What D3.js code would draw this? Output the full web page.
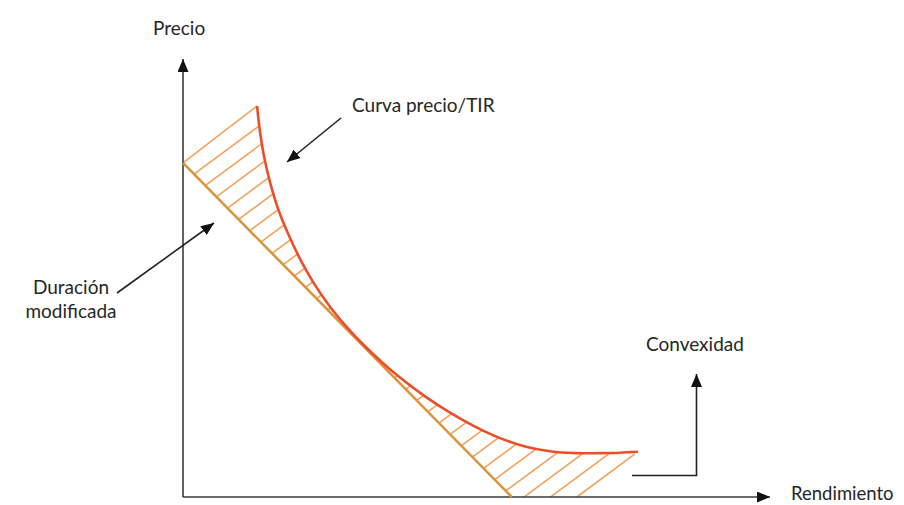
<!DOCTYPE html>
<html>
<head>
<meta charset="utf-8">
<script src="https://cdn.jsdelivr.net/npm/d3@7"></script>
<style>
  html, body { margin: 0; padding: 0; background: #fff; }
  svg { display: block; }
  text { font-family: Lato, "Open Sans", sans-serif; fill: #262626; }
</style>
</head>
<body>
<svg id="chart" width="904" height="505"></svg>
<script>
// ---- data ----
const curveYield = [1.261,1.312,1.371,1.448,1.516,1.618,1.789,1.993,2.215,2.504,2.794,3.118,3.441,3.697,4.123,4.549,4.974,5.400,5.826,6.252,6.678,7.104,7.445,7.751];
const curvePrice = [89.27,83.38,78.42,73.70,70.23,65.84,60.14,54.38,49.11,43.45,38.74,34.18,30.14,27.26,22.97,19.25,16.07,13.45,11.55,10.46,10.02,10.02,10.11,10.32];
const tangentYield = [0, 5.60];
const tangentPrice = [76.3, 0];
const axisLabels = ["Rendimiento", "Precio"];
const annotationLabels = ["Curva precio/TIR", "Duración", "modificada", "Convexidad"];
const hatchCount = 32;

// ---- layout ----
const svg = d3.select("#chart");
const x = d3.scaleLinear().domain([0, 10]).range([183, 770]);
const y = d3.scaleLinear().domain([0, 100]).range([497, 59]);

const curve = curveYield.map((v, i) => [v, curvePrice[i]]);
const tangent = tangentYield.map((v, i) => [v, tangentPrice[i]]);

const lineGen = d3.line().x(d => x(d[0])).y(d => y(d[1])).curve(d3.curveCatmullRom.alpha(0.5));
const straight = d3.line().x(d => x(d[0])).y(d => y(d[1]));

// arrowhead markers
const defs = svg.append("defs");
function marker(id, w, h) {
  defs.append("marker").attr("id", id)
    .attr("viewBox", `0 0 ${w} ${h}`).attr("refX", w).attr("refY", h / 2)
    .attr("markerWidth", w).attr("markerHeight", h)
    .attr("markerUnits", "userSpaceOnUse").attr("orient", "auto")
    .append("path").attr("d", `M0,0 L${w},${h/2} L0,${h} Z`).attr("fill", "#111");
}
marker("axisArrow", 13, 11);
marker("annArrow", 13, 11);

// ---- hatching ----
const slope = 0.74; // hatch line: y + slope*x = c (pixel space)
const p0 = [x(tangent[0][0]), y(tangent[0][1])];
const pc0 = [x(curve[0][0]), y(curve[0][1])];
const last = curve[curve.length - 1];
const pce = [x(last[0]), y(last[1])];
const yAxisBase = y(0);
const c0 = p0[1] + slope * p0[0];
const cEnd = pce[1] + slope * pce[0];
const axisHit = [(cEnd - yAxisBase) / slope, yAxisBase];

const clipD = lineGen(curve) +
  `L${axisHit[0]},${axisHit[1]}L${x(tangent[1][0])},${y(tangent[1][1])}L${p0[0]},${p0[1]}Z`;
defs.append("clipPath").attr("id", "hatchClip").append("path").attr("d", clipD);

const hatchColor = "#F5A25E";
const inner = d3.range(1, hatchCount).map(k => c0 + (cEnd - c0) * k / hatchCount);
svg.append("g").attr("clip-path", "url(#hatchClip)")
  .selectAll("line").data(inner).join("line")
  .attr("x1", 150).attr("y1", c => c - slope * 150)
  .attr("x2", 720).attr("y2", c => c - slope * 720)
  .attr("stroke", hatchColor).attr("stroke-width", 1.6);
svg.append("line").attr("x1", p0[0]).attr("y1", p0[1]).attr("x2", pc0[0]).attr("y2", pc0[1])
  .attr("stroke", hatchColor).attr("stroke-width", 1.6);
svg.append("line").attr("x1", axisHit[0]).attr("y1", axisHit[1]).attr("x2", pce[0] - 3).attr("y2", pce[1] + 2)
  .attr("stroke", hatchColor).attr("stroke-width", 1.6);

// ---- axes ----
svg.append("line").attr("x1", x(0)).attr("y1", y(0)).attr("x2", x(0)).attr("y2", y(100))
  .attr("stroke", "#3a3a3a").attr("stroke-width", 1.6).attr("marker-end", "url(#axisArrow)");
svg.append("line").attr("x1", x(0)).attr("y1", y(0)).attr("x2", x(10)).attr("y2", y(0))
  .attr("stroke", "#3a3a3a").attr("stroke-width", 1.6).attr("marker-end", "url(#axisArrow)");

// ---- tangent (modified duration) and price/yield curve ----
svg.append("path").attr("d", straight(tangent)).attr("fill", "none")
  .attr("stroke", "#D9963F").attr("stroke-width", 2.6);
svg.append("path").attr("d", lineGen(curve)).attr("fill", "none")
  .attr("stroke", "#EA4F2A").attr("stroke-width", 2.6);

// ---- labels ----
const fs = 19;
svg.append("text").attr("x", 791).attr("y", 500).attr("font-size", 18.5).text(axisLabels[0]);
svg.append("text").attr("x", 153).attr("y", 35).attr("font-size", fs).text(axisLabels[1]);
svg.append("text").attr("x", 352).attr("y", 112).attr("font-size", fs).text(annotationLabels[0]);
svg.append("text").attr("x", 71).attr("y", 294).attr("font-size", fs).attr("text-anchor", "middle").text(annotationLabels[1]);
svg.append("text").attr("x", 71).attr("y", 318).attr("font-size", fs).attr("text-anchor", "middle").text(annotationLabels[2]);
svg.append("text").attr("x", 646).attr("y", 351).attr("font-size", fs).text(annotationLabels[3]);

// ---- annotation arrows ----
const ann = svg.append("g").attr("stroke", "#222").attr("stroke-width", 1.6).attr("fill", "none");
ann.append("line").attr("x1", 341).attr("y1", 118).attr("x2", 287).attr("y2", 162).attr("marker-end", "url(#annArrow)");
ann.append("line").attr("x1", 117).attr("y1", 293).attr("x2", 214).attr("y2", 223).attr("marker-end", "url(#annArrow)");
ann.append("path").attr("d", "M632,475.5 L696.5,475.5 L696.5,374").attr("marker-end", "url(#annArrow)");
</script>
</body>
</html>
